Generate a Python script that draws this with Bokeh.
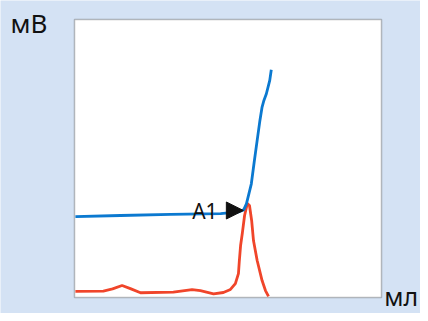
from bokeh.plotting import figure
from bokeh.models import Range1d, Label, Arrow, NormalHead, BoxAnnotation
from bokeh.embed import file_html
from bokeh.resources import INLINE

# Titration curve (potential, mV) vs volume (ml)
blue_x = [0.3, 15.0, 31.3, 47.6, 53.4, 55.1, 56.0, 56.8, 57.6, 58.6, 59.5, 60.4, 61.1, 61.7, 62.5, 63.6, 64.1]
blue_y = [29.1, 29.5, 29.9, 30.2, 30.8, 31.5, 33.7, 37.3, 40.9, 49.3, 56.5, 63.7, 68.5, 70.9, 73.3, 78.1, 81.9]

# First derivative curve
red_x = [0.3, 9.4, 12.4, 15.5, 18.2, 21.5, 32.2, 38.3, 41.0, 45.3, 48.5, 50.8, 52.4, 53.4, 53.7, 54.1,
         54.7, 55.4, 56.3, 57.0, 57.7, 58.3, 59.5, 61.1, 62.2, 63.2]
red_y = [2.2, 2.3, 3.1, 4.3, 3.2, 1.7, 1.9, 2.8, 2.5, 1.3, 1.8, 2.9, 5.0, 8.6, 13.3, 18.7,
         23.4, 29.5, 33.8, 33.1, 27.7, 20.5, 13.3, 6.1, 2.5, 0.4]

endpoint_label = "A1"
endpoint_x = 55.0
endpoint_y = 31.3
y_label = "мВ"
x_label = "мл"

BG = "#d4e2f4"
FONT = "Noto Sans"

W, H = 420, 313
# plot box (0..100 x 0..100) occupies pixels 74..381 x 19..297
sx = 307 / 100.0
sy = 278 / 100.0
p = figure(width=W, height=H, output_backend="svg", toolbar_location=None,
           x_range=Range1d(-74 / sx, (W - 74) / sx),
           y_range=Range1d(-(H - 297) / sy, 100 + 19 / sy),
           x_axis_type=None, y_axis_type=None,
           min_border=0, min_border_left=0, min_border_right=0,
           min_border_top=0, min_border_bottom=0)
p.background_fill_color = BG
p.border_fill_color = BG
p.outline_line_color = None
p.xgrid.visible = False
p.ygrid.visible = False

p.add_layout(BoxAnnotation(left=0, right=100, bottom=0, top=100,
                           fill_color="white", fill_alpha=1.0,
                           line_color="#2a2a2a", line_width=1.5, level="underlay"))

p.line(red_x, red_y, line_color="#f0452a", line_width=2.8)
p.line(blue_x, blue_y, line_color="#0b79d0", line_width=2.8)

p.add_layout(Arrow(end=NormalHead(size=17, fill_color="#111111", line_color="#111111"),
                   x_start=endpoint_x - 6.5, y_start=endpoint_y, x_end=endpoint_x, y_end=endpoint_y,
                   line_alpha=0))

p.add_layout(Label(x=46.6, y=31.0, text=endpoint_label, text_align="right",
                   text_baseline="alphabetic", text_font=FONT, text_font_size="21px",
                   text_color="#111111"))
p.add_layout(Label(x=-20.85, y=98.9, text=y_label, text_align="left",
                   text_baseline="alphabetic", text_font=FONT, text_font_size="26px",
                   text_color="#111111"))
p.add_layout(Label(x=100.9, y=0.6, text=x_label, text_align="left",
                   text_baseline="alphabetic", text_font=FONT, text_font_size="25px",
                   text_color="#111111"))

open("out.html", "w").write(file_html(p, INLINE))
